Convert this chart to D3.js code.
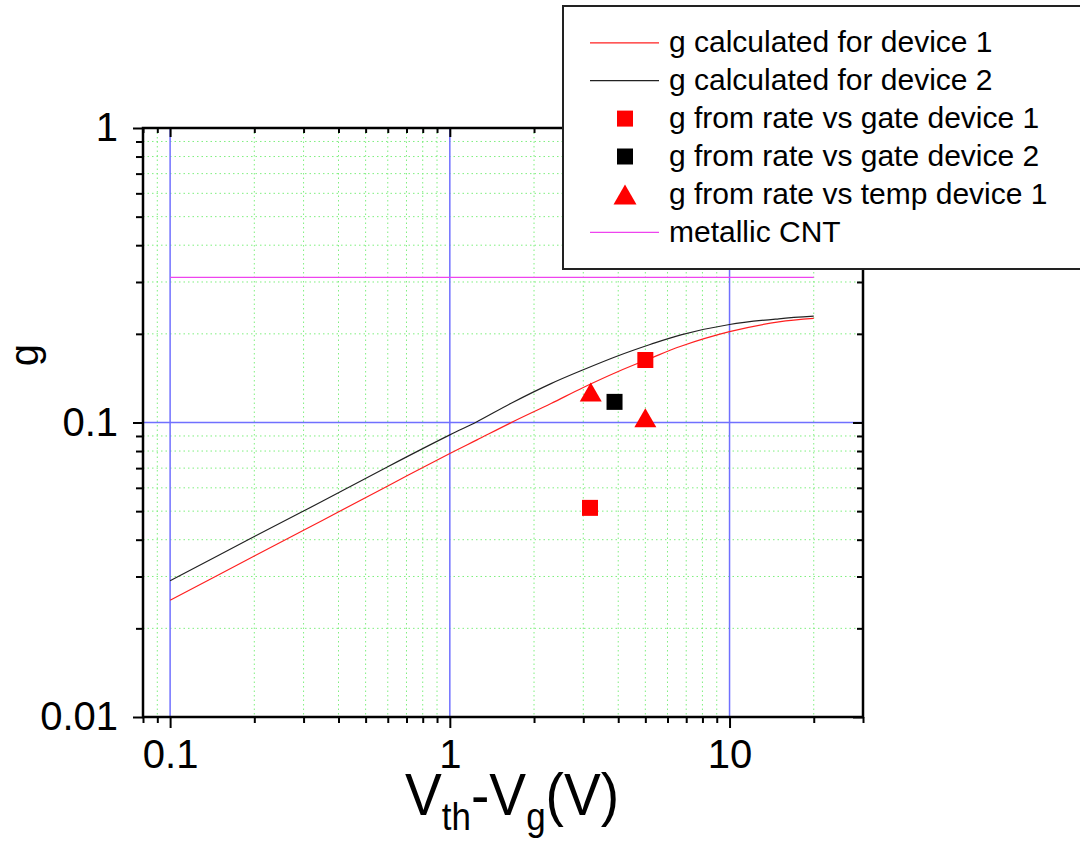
<!DOCTYPE html>
<html>
<head>
<meta charset="utf-8">
<script src="https://cdn.jsdelivr.net/npm/d3@7"></script>
<style>
  html, body { margin: 0; padding: 0; background: #fff; }
  svg { display: block; font-family: "Liberation Sans", Arial, sans-serif; }
</style>
</head>
<body>
<svg id="chart" width="1080" height="843"></svg>
<script>
// Gate voltage offset Vth - Vg (V) at which the calculated curves are sampled
const vOffset = [0.1, 0.2, 0.35, 0.6, 1, 1.25, 1.65, 2.3, 3.0, 4.0, 5.2, 6.7, 10, 15, 20];
// g calculated for device 1
const gCalcDevice1 = [0.0249, 0.0352, 0.0465, 0.0609, 0.0785, 0.0873, 0.0997, 0.1160, 0.1315, 0.1490, 0.1650, 0.1815, 0.2034, 0.2195, 0.2256];
// g calculated for device 2
const gCalcDevice2 = [0.0290, 0.0410, 0.0540, 0.0708, 0.0908, 0.1006, 0.1160, 0.1355, 0.1510, 0.1685, 0.1840, 0.1985, 0.2152, 0.2250, 0.2296];

// Measured points
const gateDev1X = [5.0, 3.17];
const gateDev1Y = [0.163, 0.0513];
const gateDev2X = [3.88];
const gateDev2Y = [0.1175];
const tempDev1X = [3.19, 5.0];
const tempDev1Y = [0.127, 0.1038];

// Metallic CNT reference level
const metallicX = [0.1, 20];
const metallicY = 0.311;

// Axis ticks
const xMajor = [0.1, 1, 10];
const xMinor = [0.08, 0.09, 0.2, 0.3, 0.4, 0.5, 0.6, 0.7, 0.8, 0.9, 2, 3, 4, 5, 6, 7, 8, 9, 20, 30];
const yMajor = [0.01, 0.1, 1];
const yMinor = [0.02, 0.03, 0.04, 0.05, 0.06, 0.07, 0.08, 0.09, 0.2, 0.3, 0.4, 0.5, 0.6, 0.7, 0.8, 0.9];

const legendLabels = [
  "g calculated for device 1",
  "g calculated for device 2",
  "g from rate vs gate device 1",
  "g from rate vs gate device 2",
  "g from rate vs temp device 1",
  "metallic CNT"
];

const svg = d3.select("#chart");
const L = 143, R = 863, T = 128, B = 717;

const x = d3.scaleLog().domain([0.08, 30]).range([L, R]);
const y = d3.scaleLog().domain([0.01, 1]).range([B, T]);

// Minor grid (green dotted)
const grid = svg.append("g");
grid.selectAll("line.gx").data(xMinor.filter(v => v > 0.08 && v < 30)).join("line")
  .attr("x1", d => x(d)).attr("x2", d => x(d)).attr("y1", T).attr("y2", B)
  .attr("stroke", "#7fef7f").attr("stroke-width", 1).attr("stroke-dasharray", "1.5,3");
grid.selectAll("line.gy").data(yMinor).join("line")
  .attr("y1", d => y(d)).attr("y2", d => y(d)).attr("x1", L).attr("x2", R)
  .attr("stroke", "#7fef7f").attr("stroke-width", 1).attr("stroke-dasharray", "1.5,3");

// Major grid (blue)
grid.selectAll("line.mx").data(xMajor).join("line")
  .attr("x1", d => x(d)).attr("x2", d => x(d)).attr("y1", T).attr("y2", B)
  .attr("stroke", "#7070ff").attr("stroke-width", 1.5);
grid.append("line")
  .attr("x1", L).attr("x2", R).attr("y1", y(0.1)).attr("y2", y(0.1))
  .attr("stroke", "#7070ff").attr("stroke-width", 1.5);

// Metallic CNT level
svg.append("line")
  .attr("x1", x(metallicX[0])).attr("x2", x(metallicX[1]))
  .attr("y1", y(metallicY)).attr("y2", y(metallicY))
  .attr("stroke", "#ee44ee").attr("stroke-width", 1.2);

// Calculated curves
const line = d3.line().x(d => x(d[0])).y(d => y(d[1])).curve(d3.curveCatmullRom.alpha(0.5));
svg.append("path").datum(vOffset.map((v, i) => [v, gCalcDevice2[i]]))
  .attr("d", line).attr("fill", "none").attr("stroke", "#222").attr("stroke-width", 1.2);
svg.append("path").datum(vOffset.map((v, i) => [v, gCalcDevice1[i]]))
  .attr("d", line).attr("fill", "none").attr("stroke", "#ff2020").attr("stroke-width", 1.2);

// Marker shapes centred on their bounding box
function squarePath(s) { const h = s / 2; return `M${-h},${-h}H${h}V${h}H${-h}Z`; }
function trianglePath(w, h) { return `M0,${-h / 2}L${w / 2},${h / 2}L${-w / 2},${h / 2}Z`; }

svg.selectAll("path.sq1").data(gateDev1X.map((v, i) => [v, gateDev1Y[i]])).join("path")
  .attr("transform", d => `translate(${x(d[0])},${y(d[1])})`)
  .attr("d", squarePath(16)).attr("fill", "#ff0000");
svg.selectAll("path.sq2").data(gateDev2X.map((v, i) => [v, gateDev2Y[i]])).join("path")
  .attr("transform", d => `translate(${x(d[0])},${y(d[1])})`)
  .attr("d", squarePath(16)).attr("fill", "#000");
svg.selectAll("path.tri").data(tempDev1X.map((v, i) => [v, tempDev1Y[i]])).join("path")
  .attr("transform", d => `translate(${x(d[0])},${y(d[1])})`)
  .attr("d", trianglePath(22, 19)).attr("fill", "#ff0000");

// Axes
const fmt = d => (d >= 1 ? d3.format("d")(d) : String(d));
function styleAxis(g) {
  g.select(".domain").remove();
  g.selectAll(".tick line").attr("stroke", "#000").attr("stroke-width", 2);
  g.selectAll("text").attr("font-family", "'Liberation Sans', Arial, sans-serif")
    .attr("font-size", 40).attr("fill", "#000");
}
svg.append("g").attr("transform", `translate(0,${B})`)
  .call(d3.axisBottom(x).tickValues(xMajor).tickSize(11).tickPadding(12).tickFormat(fmt)).call(styleAxis);
svg.append("g").attr("transform", `translate(0,${B})`)
  .call(d3.axisBottom(x).tickValues(xMinor).tickSize(6).tickFormat("")).call(styleAxis);
svg.append("g").attr("transform", `translate(0,${T})`)
  .call(d3.axisTop(x).tickValues(xMajor).tickSize(-9).tickFormat("")).call(styleAxis);
svg.append("g").attr("transform", `translate(0,${T})`)
  .call(d3.axisTop(x).tickValues(xMinor).tickSize(-5).tickFormat("")).call(styleAxis);

svg.append("g").attr("transform", `translate(${L},0)`)
  .call(d3.axisLeft(y).tickValues(yMajor).tickSize(10).tickPadding(15).tickFormat(fmt)).call(styleAxis);
svg.append("g").attr("transform", `translate(${L},0)`)
  .call(d3.axisLeft(y).tickValues(yMinor).tickSize(7).tickFormat("")).call(styleAxis);
svg.append("g").attr("transform", `translate(${R},0)`)
  .call(d3.axisRight(y).tickValues(yMajor).tickSize(-10).tickFormat("")).call(styleAxis);
svg.append("g").attr("transform", `translate(${R},0)`)
  .call(d3.axisRight(y).tickValues(yMinor).tickSize(-6).tickFormat("")).call(styleAxis);

// Frame
svg.append("rect").attr("x", L).attr("y", T).attr("width", R - L).attr("height", B - T)
  .attr("fill", "none").attr("stroke", "#000").attr("stroke-width", 2.5);

// Axis titles
svg.append("text").attr("transform", "translate(38,355) rotate(-90)")
  .attr("text-anchor", "middle").attr("font-size", 40).text("g");

const xt = svg.append("text").attr("transform", "translate(405,815) scale(0.92,1)")
  .attr("font-size", 60);
xt.append("tspan").text("V");
xt.append("tspan").attr("font-size", 38).attr("dy", 15).text("th");
xt.append("tspan").attr("dy", -15).text("-V");
xt.append("tspan").attr("font-size", 38).attr("dy", 15).text("g");
xt.append("tspan").attr("dy", -15).text("(V)");

// Legend
const lg = svg.append("g");
lg.append("rect").attr("x", 563).attr("y", 6).attr("width", 600).attr("height", 263)
  .attr("fill", "#fff").attr("stroke", "#222").attr("stroke-width", 2);
const rowY = i => 52.3 + i * 37.9;
legendLabels.forEach((label, i) => {
  lg.append("text").attr("x", 669).attr("y", rowY(i)).attr("font-size", 30).text(label);
});
const cy = i => rowY(i) - 9.5;
lg.append("line").attr("x1", 590).attr("x2", 659).attr("y1", cy(0)).attr("y2", cy(0))
  .attr("stroke", "#ff2020").attr("stroke-width", 1.2);
lg.append("line").attr("x1", 590).attr("x2", 659).attr("y1", cy(1)).attr("y2", cy(1))
  .attr("stroke", "#222").attr("stroke-width", 1.2);
lg.append("path").attr("transform", `translate(625,${cy(2)})`).attr("d", squarePath(16)).attr("fill", "#ff0000");
lg.append("path").attr("transform", `translate(625,${cy(3)})`).attr("d", squarePath(16)).attr("fill", "#000");
lg.append("path").attr("transform", `translate(625,${cy(4)})`).attr("d", trianglePath(23, 20)).attr("fill", "#ff0000");
lg.append("line").attr("x1", 590).attr("x2", 659).attr("y1", cy(5)).attr("y2", cy(5))
  .attr("stroke", "#ee44ee").attr("stroke-width", 1.2);
</script>
</body>
</html>
